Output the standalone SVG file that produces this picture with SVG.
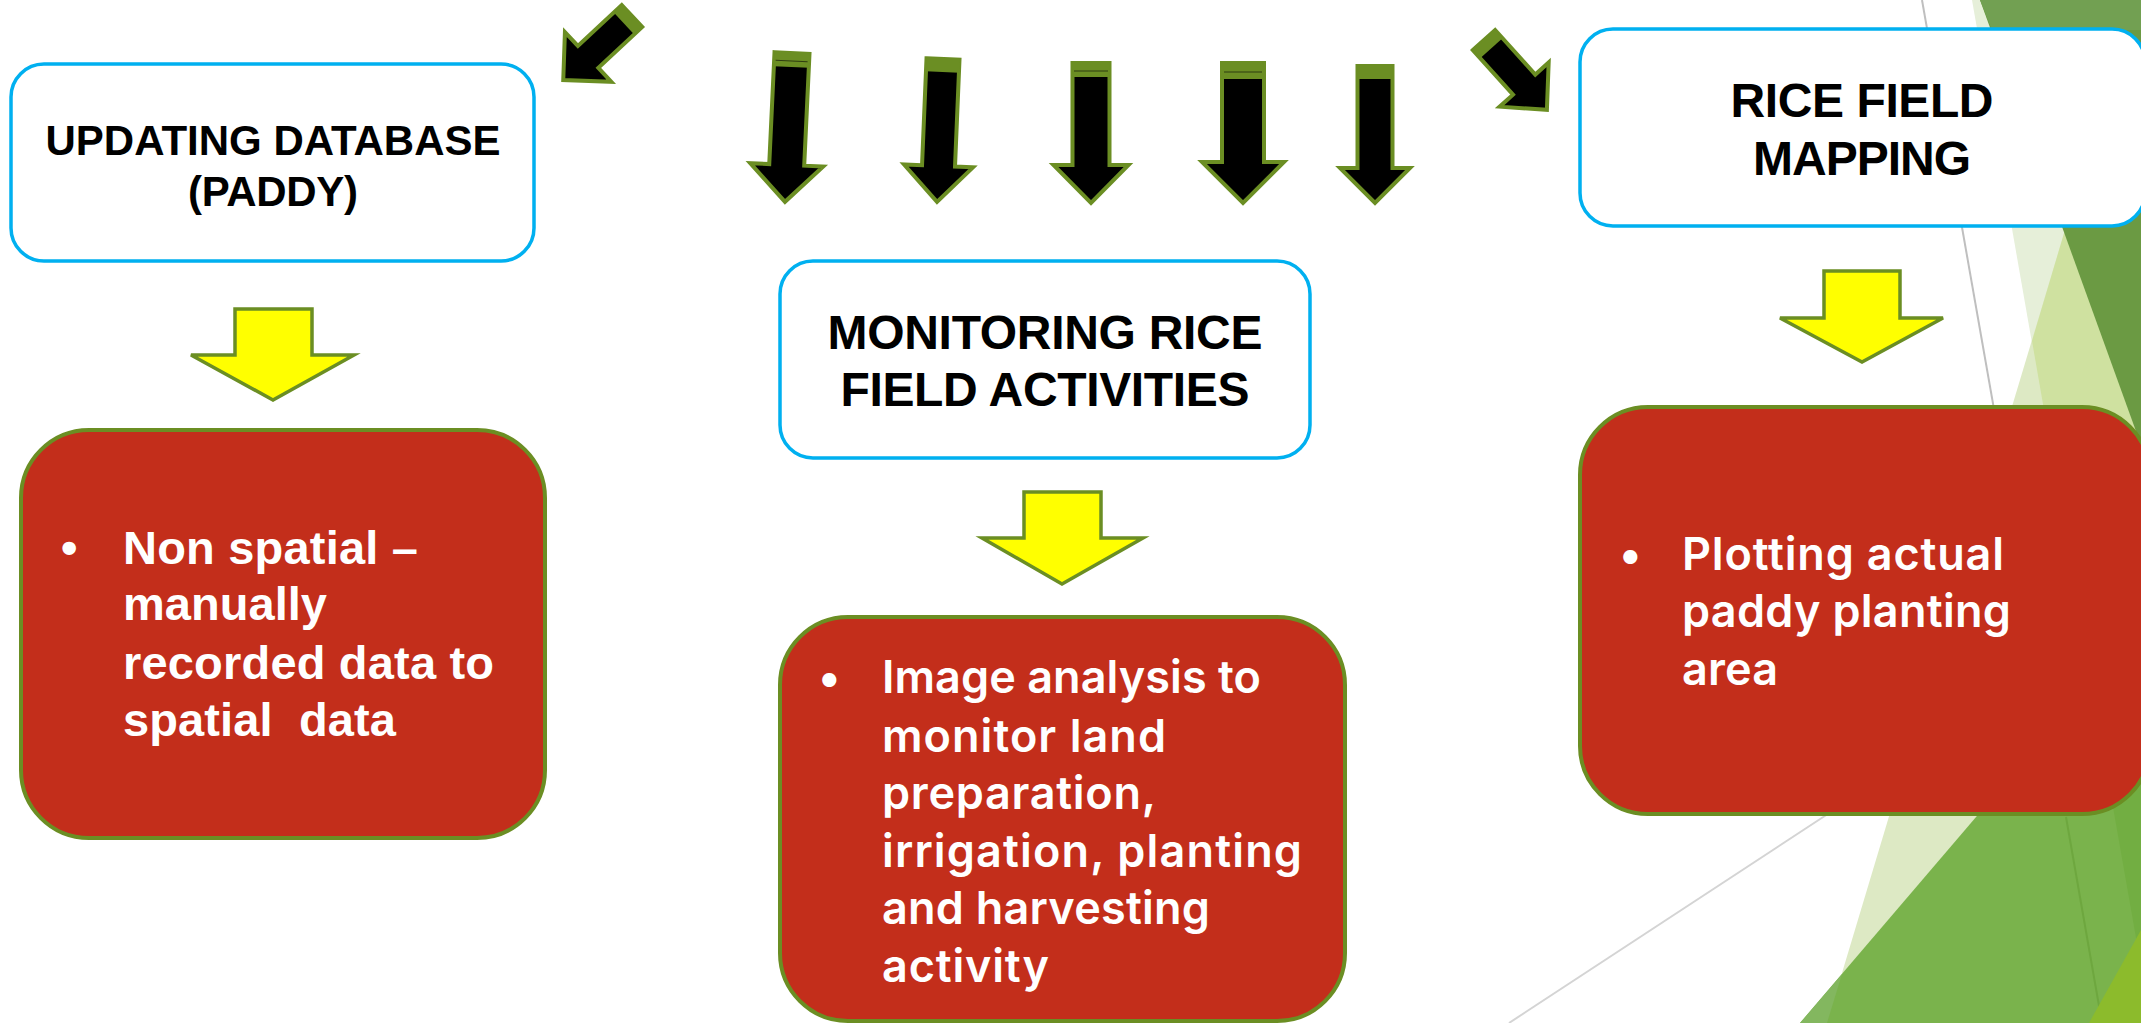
<svg xmlns="http://www.w3.org/2000/svg" width="2141" height="1023" viewBox="0 0 2141 1023">
<style>
.title{fill:#fff;stroke:#00b0f0;stroke-width:3.5}
.red{fill:#c32e1b;stroke:#6b8e23;stroke-width:4}
.yel{fill:#ffff00;stroke:#6b8e23;stroke-width:3.5;stroke-linejoin:miter}
.blk{fill:#000;stroke:#6b8e23;stroke-width:4;stroke-linejoin:miter}
.cap{fill:#6b8e23}
.capl{stroke:#2f3d10;stroke-width:1}
.tt{font-family:"Liberation Sans",Arial,sans-serif;font-weight:700;fill:#000;text-anchor:middle}
.bl{font-family:"Liberation Sans",Arial,sans-serif;font-weight:700;fill:#fff;font-size:47px}
.bi{font-family:Inter,"Open Sans",sans-serif;font-weight:600;fill:#fff;font-size:45px}
</style>
<rect width="2141" height="1023" fill="#fff"/>
<g id="background">
<polygon points="1972,0 2141,0 2141,966" fill="#e6efd9"/>
<polygon points="2065,230 2141,440 2141,1023 1827,1023" fill="#dde9c4"/>
<polygon points="2065,230 2032,341 2141,966 2141,230" fill="#cfe1a0"/>
<line x1="1922" y1="0" x2="2102" y2="1023" stroke="#bfbfbf" stroke-width="2"/>
<line x1="1509" y1="1023" x2="1840" y2="806" stroke="#d4d4d4" stroke-width="2"/>
<polygon points="1980,0 2141,0 2141,445" fill="#6b9a43"/>
<polygon points="1980,0 2141,0 2141,30 1992,30" fill="#72a052"/>
<polygon points="2141,624 2141,1023 1800,1023" fill="#7ab34c"/>
<polygon points="1800,1023 1827,1023 1842,974" fill="#83b75f"/>
<polygon points="2091,682 2141,624 2141,966" fill="#72ae42"/>
<line x1="2066" y1="817" x2="2102" y2="1023" stroke="#6ea73f" stroke-width="2"/>
<polygon points="2141,930 2141,1023 2089,1023" fill="#8cbb2c"/>
</g>
<g id="connectors">
<g transform="translate(632,16) rotate(47)"><path class="blk" d="M-15,0 H15 V60 H34 L0,94 L-34,60 H-15 Z"/><rect class="cap" x="-15" y="-1" width="30" height="12"/></g>
<g transform="translate(792,53) rotate(2.7)"><path class="blk" d="M-17.5,0 H17.5 V112 H36.5 L0,149 L-36.5,112 H-17.5 Z"/><rect class="cap" x="-17.5" y="-1" width="35" height="15"/><line class="capl" x1="-16" y1="8" x2="16" y2="8"/></g>
<g transform="translate(943,59) rotate(2.4)"><path class="blk" d="M-16.5,0 H16.5 V107 H34.5 L0,143 L-34.5,107 H-16.5 Z"/><rect class="cap" x="-16.5" y="-1" width="33" height="14"/></g>
<g transform="translate(1091,63)"><path class="blk" d="M-18.5,0 H18.5 V102 H37.5 L0,140 L-37.5,102 H-18.5 Z"/><rect class="cap" x="-18.5" y="-1" width="37" height="15"/><line class="capl" x1="-17" y1="8" x2="17" y2="8"/></g>
<g transform="translate(1243,63)"><path class="blk" d="M-21,0 H21 V99 H41 L0,140 L-41,99 H-21 Z"/><rect class="cap" x="-21" y="-1" width="42" height="17"/><line class="capl" x1="-19" y1="9" x2="19" y2="9"/></g>
<g transform="translate(1375,66)"><path class="blk" d="M-17.5,0 H17.5 V102 H35 L0,137 L-35,102 H-17.5 Z"/><rect class="cap" x="-17.5" y="-1" width="35" height="14"/></g>
<g transform="translate(1484,40) rotate(-42)"><path class="blk" d="M-15,0 H15 V60 H33 L0,94 L-33,60 H-15 Z"/><rect class="cap" x="-15" y="-1" width="30" height="12"/></g>
<path class="yel" d="M235,309 H312 V355 H354 L273,400 L191,355 H235 Z"/>
<path class="yel" d="M1024,492 H1101 V538 H1143 L1062,584 L982,538 H1024 Z"/>
<path class="yel" d="M1824,271 H1900 V318 H1943 L1862,362 L1780,318 H1824 Z"/>
</g>
<g id="node-updating">
<rect class="title" x="11" y="64" width="523" height="197" rx="33"/>
<text class="tt" x="273" y="155" font-size="42" textLength="455" lengthAdjust="spacing">UPDATING DATABASE</text>
<text class="tt" x="273" y="206" font-size="42" textLength="170" lengthAdjust="spacing">(PADDY)</text>
</g>
<g id="node-monitoring">
<rect class="title" x="780" y="261" width="530" height="197" rx="33"/>
<text class="tt" x="1045" y="349" font-size="48" textLength="435" lengthAdjust="spacing">MONITORING RICE</text>
<text class="tt" x="1045" y="406" font-size="48" textLength="409" lengthAdjust="spacing">FIELD ACTIVITIES</text>
</g>
<g id="node-mapping">
<rect class="title" x="1580" y="29" width="565" height="197" rx="33"/>
<text class="tt" x="1862" y="117" font-size="48" textLength="263" lengthAdjust="spacing">RICE FIELD</text>
<text class="tt" x="1862" y="175" font-size="48" textLength="218" lengthAdjust="spacing">MAPPING</text>
</g>
<g id="node-nonspatial">
<rect class="red" x="21" y="430" width="524" height="408" rx="68"/>
<text class="bl" x="61" y="564">•</text>
<text class="bl" x="123" y="564" textLength="295" lengthAdjust="spacing">Non spatial –</text>
<text class="bl" x="123" y="620" textLength="204" lengthAdjust="spacing">manually</text>
<text class="bl" x="123" y="679" textLength="371" lengthAdjust="spacing">recorded data to</text>
<text class="bl" x="123" y="736" xml:space="preserve" textLength="273" lengthAdjust="spacing">spatial  data</text>
</g>
<g id="node-image">
<rect class="red" x="780" y="617" width="565" height="404" rx="68"/>
<text class="bi" x="818" y="693">•</text>
<text class="bi" x="882" y="693" textLength="379" lengthAdjust="spacing">Image analysis to</text>
<text class="bi" x="882" y="752" textLength="284" lengthAdjust="spacing">monitor land</text>
<text class="bi" x="882" y="809" textLength="274" lengthAdjust="spacing">preparation,</text>
<text class="bi" x="882" y="867" textLength="420" lengthAdjust="spacing">irrigation, planting</text>
<text class="bi" x="882" y="924" textLength="328" lengthAdjust="spacing">and harvesting</text>
<text class="bi" x="882" y="982" textLength="167" lengthAdjust="spacing">activity</text>
</g>
<g id="node-plotting">
<rect class="red" x="1580" y="407" width="570" height="407" rx="68"/>
<text class="bi" x="1619" y="570">•</text>
<text class="bi" x="1682" y="570" textLength="322" lengthAdjust="spacing">Plotting actual</text>
<text class="bi" x="1682" y="627" textLength="329" lengthAdjust="spacing">paddy planting</text>
<text class="bi" x="1682" y="685" textLength="96" lengthAdjust="spacing">area</text>
</g>
</svg>
